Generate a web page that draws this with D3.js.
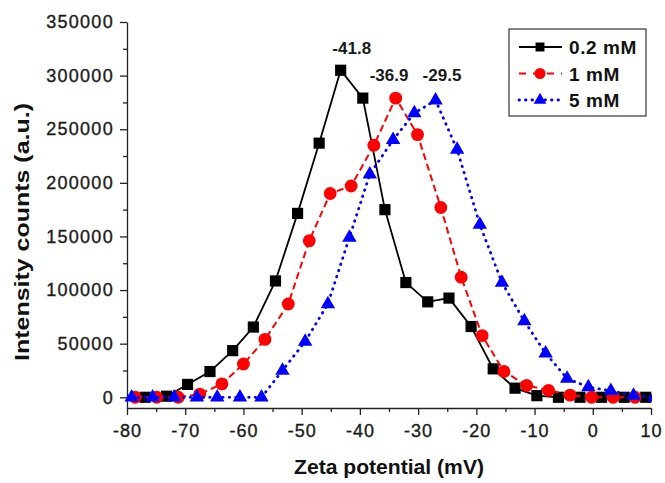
<!DOCTYPE html>
<html>
<head>
<meta charset="utf-8">
<script src="https://cdn.jsdelivr.net/npm/d3@7"></script>
<style>
  body { margin: 0; background: #fff; }
</style>
</head>
<body>
<div id="chart"></div>
<script>
// zeta potential (mV) and intensity counts
const zeta02 = [-76.9, -73.2, -69.6, -65.75, -61.85, -58.3, -54.5, -50.7, -47.0, -43.3, -39.5, -35.7,
  -32.1, -28.35, -24.7, -20.9, -17.1, -13.35, -9.6, -5.9, -2.2, 1.5, 5.4, 9.1];
const counts02 = [0, 1000, 12000, 24000, 43500, 65500, 108500, 171500, 237000, 305000, 279000, 175000,
  107000, 89000, 92500, 66000, 26500, 8500, 1500, 0, 0, 0, 0, 0];

const zeta1 = [-78.6, -74.9, -71.2, -67.5, -63.7, -60.0, -56.3, -52.3, -48.7, -45.1, -41.5, -37.6,
  -33.85, -30.1, -26.1, -22.6, -19.0, -15.25, -11.35, -7.6, -3.9, -0.2, 3.5, 7.25];
const counts1 = [0, 0, 0, 3000, 12500, 31000, 54000, 87000, 146000, 190000, 197000, 235000,
  279000, 245000, 177000, 112000, 57500, 24000, 11000, 6500, 2000, 0, 0, 0];

const zeta5 = [-79.2, -75.6, -71.9, -68.0, -64.5, -60.6, -56.9, -53.3, -49.4, -45.5, -41.8, -38.3,
  -34.3, -30.65, -27.0, -23.3, -19.4, -15.6, -11.75, -8.1, -4.4, -0.76, 3.1, 7.0, 10.6];
const counts5 = [0, 0, 0, 0, 0, 0, 0, 25000, 52000, 87000, 149000, 208000,
  240000, 265000, 277000, 231000, 161000, 107000, 71000, 41000, 17500, 9500, 6000, 1500, 0];

const seriesNames = ["0.2 mM", "1 mM", "5 mM"];

// peak labels (text, position in data units)
const peakText = ["-41.8", "-36.9", "-29.5"];
const peakX = [-41.4, -35.0, -25.9];
const peakY = [320000, 295000, 295000];

const xTicks = [-80, -70, -60, -50, -40, -30, -20, -10, 0, 10];
const yTicks = [0, 50000, 100000, 150000, 200000, 250000, 300000, 350000];

const font = "Arial, 'Liberation Sans', sans-serif";
const svgWidth = 665, svgHeight = 483;
const margin = { top: 22, right: 14, bottom: 75, left: 127 };
const width = svgWidth - margin.left - margin.right;
const height = svgHeight - margin.top - margin.bottom;

const root = d3.select("#chart").append("svg")
  .attr("width", svgWidth)
  .attr("height", svgHeight)
  .style("display", "block");

const svg = root.append("g")
  .attr("transform", `translate(${margin.left},${margin.top})`);

const xScale = d3.scaleLinear().domain([-80, 10]).range([0, width]);
const yScale = d3.scaleLinear().domain([-10000, 350000]).range([height, 0]);

// minor ticks first, then major axes with labels
const xMinor = d3.range(-75, 10, 10);
const yMinor = d3.range(25000, 350000, 50000);

svg.append("g")
  .attr("transform", `translate(0,${height})`)
  .call(d3.axisBottom(xScale).tickValues(xMinor).tickSize(4).tickSizeOuter(0).tickFormat(""))
  .call(g => g.select(".domain").remove());
svg.append("g")
  .call(d3.axisLeft(yScale).tickValues(yMinor).tickSize(4).tickSizeOuter(0).tickFormat(""))
  .call(g => g.select(".domain").remove());

const xAxis = svg.append("g")
  .attr("class", "x-axis")
  .attr("transform", `translate(0,${height})`)
  .call(d3.axisBottom(xScale).tickValues(xTicks).tickSize(7).tickSizeOuter(0).tickPadding(9)
    .tickFormat(d => String(d)));
xAxis.selectAll("text")
  .attr("font-family", font)
  .attr("font-size", "18px")
  .attr("letter-spacing", "1px")
  .attr("fill", "#1a1a1a")
  .attr("stroke", "#1a1a1a")
  .attr("stroke-width", 0.35);

const yAxis = svg.append("g")
  .attr("class", "y-axis")
  .call(d3.axisLeft(yScale).tickValues(yTicks).tickSize(7).tickSizeOuter(0).tickPadding(6)
    .tickFormat(d3.format("d")));
yAxis.selectAll("text")
  .attr("font-family", font)
  .attr("font-size", "18px")
  .attr("letter-spacing", "1.3px")
  .attr("fill", "#1a1a1a")
  .attr("stroke", "#1a1a1a")
  .attr("stroke-width", 0.35);

svg.selectAll(".domain, .tick line").attr("stroke", "#222").attr("stroke-width", 1.3);

// clip so the last point is cut at the axis end like the original
svg.append("defs").append("clipPath")
  .attr("id", "plot-clip")
  .append("rect")
  .attr("x", -20).attr("y", -40)
  .attr("width", width + 21).attr("height", height + 60);

const series = [
  { xs: zeta02, ys: counts02, color: "#000000", dash: null, cap: "butt", lw: 1.8, sym: d3.symbolSquare, size: 125 },
  { xs: zeta1, ys: counts1, color: "#ff0000", dash: "7,4", cap: "butt", lw: 2, sym: d3.symbolCircle, size: 130 },
  { xs: zeta5, ys: counts5, color: "#0000ff", dash: "0.5,6", cap: "round", lw: 2.8, sym: d3.symbolTriangle, size: 90 }
];

const plotArea = svg.append("g").attr("clip-path", "url(#plot-clip)");

series.forEach(s => {
  const pts = s.xs.map((v, i) => [v, s.ys[i]]);
  const line = d3.line().x(d => xScale(d[0])).y(d => yScale(d[1]));
  plotArea.append("path")
    .datum(pts)
    .attr("d", line)
    .attr("fill", "none")
    .attr("stroke", s.color)
    .attr("stroke-width", s.lw)
    .attr("stroke-linecap", s.cap)
    .attr("stroke-dasharray", s.dash);
  plotArea.selectAll(null)
    .data(pts)
    .enter().append("path")
    .attr("d", d3.symbol().type(s.sym).size(s.size))
    .attr("transform", d => `translate(${xScale(d[0])},${yScale(d[1])})`)
    .attr("fill", s.color);
});

// peak labels
svg.selectAll(".peak")
  .data(peakText)
  .enter().append("text")
  .attr("class", "peak")
  .attr("x", (d, i) => xScale(peakX[i]))
  .attr("y", (d, i) => yScale(peakY[i]))
  .attr("text-anchor", "middle")
  .attr("font-family", font)
  .attr("font-size", "17px")
  .attr("font-weight", "bold")
  .attr("fill", "#1a1a1a")
  .text(d => d);

// axis titles
svg.append("text")
  .attr("x", width / 2)
  .attr("y", height + 66)
  .attr("text-anchor", "middle")
  .attr("font-family", font)
  .attr("font-size", "20px")
  .attr("font-weight", "bold")
  .attr("textLength", 190)
  .attr("lengthAdjust", "spacingAndGlyphs")
  .attr("fill", "#111")
  .text("Zeta potential (mV)");

svg.append("text")
  .attr("transform", "rotate(-90)")
  .attr("x", -210)
  .attr("y", -margin.left + 29)
  .attr("text-anchor", "middle")
  .attr("font-family", font)
  .attr("font-size", "20px")
  .attr("font-weight", "bold")
  .attr("textLength", 258)
  .attr("lengthAdjust", "spacingAndGlyphs")
  .attr("fill", "#111")
  .text("Intensity counts (a.u.)");

// legend
const legend = root.append("g").attr("transform", "translate(509,29)");
legend.append("rect")
  .attr("width", 137).attr("height", 87)
  .attr("fill", "#fff")
  .attr("stroke", "#333")
  .attr("stroke-width", 1.2);

const legendSyms = [
  { sym: d3.symbolSquare, size: 80 },
  { sym: d3.symbolCircle, size: 95 },
  { sym: d3.symbolTriangle, size: 70 }
];

seriesNames.forEach((name, i) => {
  const s = series[i];
  const row = legend.append("g").attr("transform", `translate(0,${18 + i * 26.5})`);
  row.append("line")
    .attr("x1", 10).attr("x2", 53)
    .attr("stroke", s.color)
    .attr("stroke-width", s.lw)
    .attr("stroke-linecap", s.cap)
    .attr("stroke-dasharray", i === 1 ? "7,7" : s.dash);
  row.append("path")
    .attr("d", d3.symbol().type(legendSyms[i].sym).size(legendSyms[i].size))
    .attr("transform", "translate(31,0)")
    .attr("fill", s.color);
  row.append("text")
    .attr("x", 60)
    .attr("y", 7)
    .attr("font-family", font)
    .attr("font-size", "19px")
    .attr("font-weight", "bold")
    .attr("letter-spacing", "0.6px")
    .attr("fill", "#111")
    .text(name);
});
</script>
</body>
</html>
